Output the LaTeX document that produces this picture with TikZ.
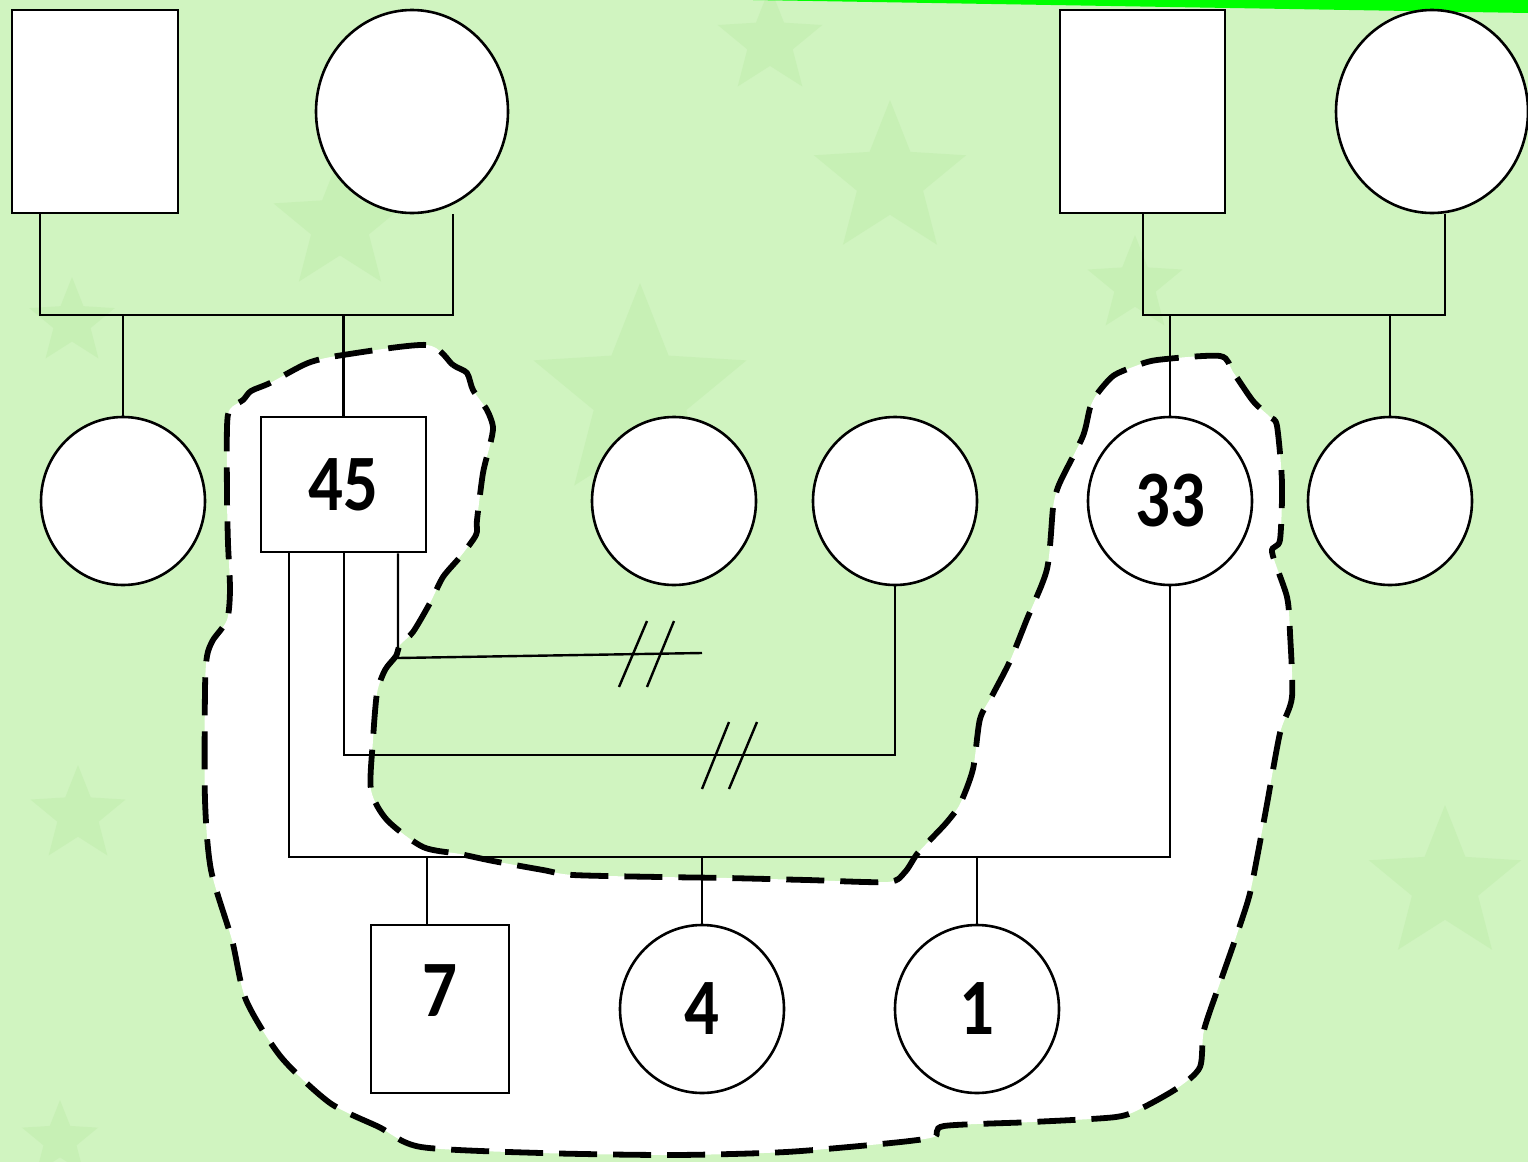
\documentclass[tikz,border=0pt]{standalone}
\usepackage{fontspec}
\usepackage{graphicx}
\setmainfont{Carlito}
\usetikzlibrary{shapes.geometric}
\definecolor{bg}{RGB}{208,244,192}
\definecolor{stargreen}{RGB}{184,233,162}
\definecolor{topgreen}{RGB}{0,255,0}
\newcommand\numtxt[1]{\scalebox{0.86}[1]{#1}}
\begin{document}
\begin{tikzpicture}[x=0.5pt,y=-0.5pt,
  ln/.style={line width=1.2pt},
  male/.style={draw, line width=1.3pt, fill=white, rectangle, inner sep=0pt},
  female/.style={draw, line width=1.3pt, fill=white, ellipse, inner sep=0pt},
  num/.style={font=\fontsize{40}{40}\selectfont\bfseries, inner sep=0pt},
  outline/.style={draw=black, fill=white, line width=2.9pt, dash pattern=on 19pt off 8pt},
  bgstar/.style={star, star points=5, star point ratio=2.3, fill=stargreen, draw=none, opacity=0.35, inner sep=0pt}
]
% background
\fill[bg] (0,0) rectangle (1528,1162);
\useasboundingbox (0,0) rectangle (1528,1162);
% faint background stars
\node[bgstar, minimum size=55pt] (st1) at (770,42) {};
\node[bgstar, minimum size=80pt] (st2) at (890,180) {};
\node[bgstar, minimum size=70pt] (st3) at (340,225) {};
\node[bgstar, minimum size=112pt] (st4) at (640,395) {};
\node[bgstar, minimum size=45pt] (st5) at (72,322) {};
\node[bgstar, minimum size=50pt] (st6) at (78,815) {};
\node[bgstar, minimum size=80pt] (st7) at (1445,885) {};
\node[bgstar, minimum size=50pt] (st8) at (1135,285) {};
\node[bgstar, minimum size=40pt] (st9) at (60,1140) {};
% top green band
\fill[topgreen] (753,0) -- (1528,0) -- (1528,13) -- cycle;
% dashed outline
\draw[outline] plot[smooth cycle, tension=0.45] coordinates {
 (427,345) (453,365) (467,373) (473,390) (487,410) (493,427) (490,445) (483,473)
 (477,520) (476,535) (460,557) (443,577) (430,603) (413,632) (400,645) (396,656)
 (385,670) (377,693) (373,740) (371,790) (387,820) (423,847) (460,854) (493,861)
 (543,870) (573,875) (660,877) (727,878) (807,880) (888,882) (905,872) (917,854)
 (932,838) (947,822) (960,804) (973,769) (980,719) (993,694) (1010,661) (1027,619)
 (1047,569) (1053,508) (1057,490) (1063,476) (1083,436) (1090,408) (1097,394)
 (1113,376) (1133,367) (1157,360) (1220,356) (1233,372) (1253,401) (1270,417)
 (1277,426) (1282,483) (1280,540) (1272,552) (1287,597) (1290,633) (1292,697)
 (1280,733) (1267,804) (1257,858) (1249,897) (1235,940) (1221,980) (1204,1030)
 (1200,1067) (1179,1087) (1144,1107) (1116,1117) (1032,1122) (944,1126) (934,1137)
 (891,1143) (786,1152) (674,1155) (541,1153) (421,1147) (379,1127) (330,1103)
 (281,1057) (246,1000) (232,940) (211,870) (205,800) (205,690) (207,656) (213,640)
 (227,620) (230,590) (228,543) (227,497) (227,427) (230,409) (243,400) (251,391)
 (270,383) (308,363) (343,355)};
% nodes: top generation
\node[male, minimum width=83pt, minimum height=101.5pt] (sq1) at (95,111.5) {};
\node[female, minimum width=96pt, minimum height=101.5pt] (ci1) at (412,111.5) {};
\node[male, minimum width=82.5pt, minimum height=101.5pt] (sq2) at (1142.5,111.5) {};
\node[female, minimum width=96pt, minimum height=101.5pt] (ci2) at (1432,111.5) {};
% middle generation
\node[female, minimum width=82pt, minimum height=84pt] (cA) at (123,501) {};
\node[male, minimum width=82.5pt, minimum height=67.5pt, num] (s45) at (343.5,484.5) {\numtxt{45}};
\node[female, minimum width=82pt, minimum height=84pt] (cB) at (674,501) {};
\node[female, minimum width=82pt, minimum height=84pt] (cC) at (895,501) {};
\node[female, minimum width=82pt, minimum height=84pt, num] (c33) at (1170,501) {\numtxt{33}};
\node[female, minimum width=82pt, minimum height=84pt] (cD) at (1390,501) {};
% bottom generation
\node[male, minimum width=69pt, minimum height=84pt] (s7) at (440,1009) {};
\node[num] (t7) at (440,991) {\numtxt{7}};
\node[female, minimum width=82pt, minimum height=84pt, num] (c4) at (702,1009) {\numtxt{4}};
\node[female, minimum width=82pt, minimum height=84pt, num] (c1) at (977,1009) {\numtxt{1}};
% junction coordinates
\coordinate (jL1) at (40,315);
\coordinate (jL2) at (453,315);
\coordinate (jR1) at (1143,315);
\coordinate (jR2) at (1445,315);
\coordinate (l3) at (398,658);
\coordinate (e3) at (702,653);
\coordinate (l2) at (344,755);
\coordinate (l1) at (289,857);
\coordinate (d7) at (427,857);
% slash marks
\coordinate (sa1) at (619,687); \coordinate (sa2) at (647,621);
\coordinate (sb1) at (647,687); \coordinate (sb2) at (674,621);
\coordinate (sc1) at (702,789); \coordinate (sc2) at (729,722);
\coordinate (sd1) at (729,789); \coordinate (sd2) at (757,722);
% connectors: left family
\draw[ln] (sq1.south -| jL1) -- (jL1) -- (jL2) -- (ci1.south -| jL2);
\draw[ln] (cA.north) -- (cA.north |- jL1);
\draw[ln] (s45.north) -- (s45.north |- jL1);
% right family
\draw[ln] (sq2.south -| jR1) -- (jR1) -- (jR2) -- (ci2.south -| jR2);
\draw[ln] (c33.north) -- (c33.north |- jR1);
\draw[ln] (cD.north) -- (cD.north |- jR1);
% 45's unions
\draw[ln] (s45.south -| l3) -- (l3) -- (e3);
\draw[ln] (sa1) -- (sa2);
\draw[ln] (sb1) -- (sb2);
\draw[ln] (s45.south -| l2) -- (l2) -- (l2 -| cC.south) -- (cC.south);
\draw[ln] (sc1) -- (sc2);
\draw[ln] (sd1) -- (sd2);
\draw[ln] (s45.south -| l1) -- (l1) -- (l1 -| c33.south) -- (c33.south);
% children
\draw[ln] (s7.north -| d7) -- (d7);
\draw[ln] (c4.north) -- (c4.north |- l1);
\draw[ln] (c1.north) -- (c1.north |- l1);
\end{tikzpicture}
\end{document}
